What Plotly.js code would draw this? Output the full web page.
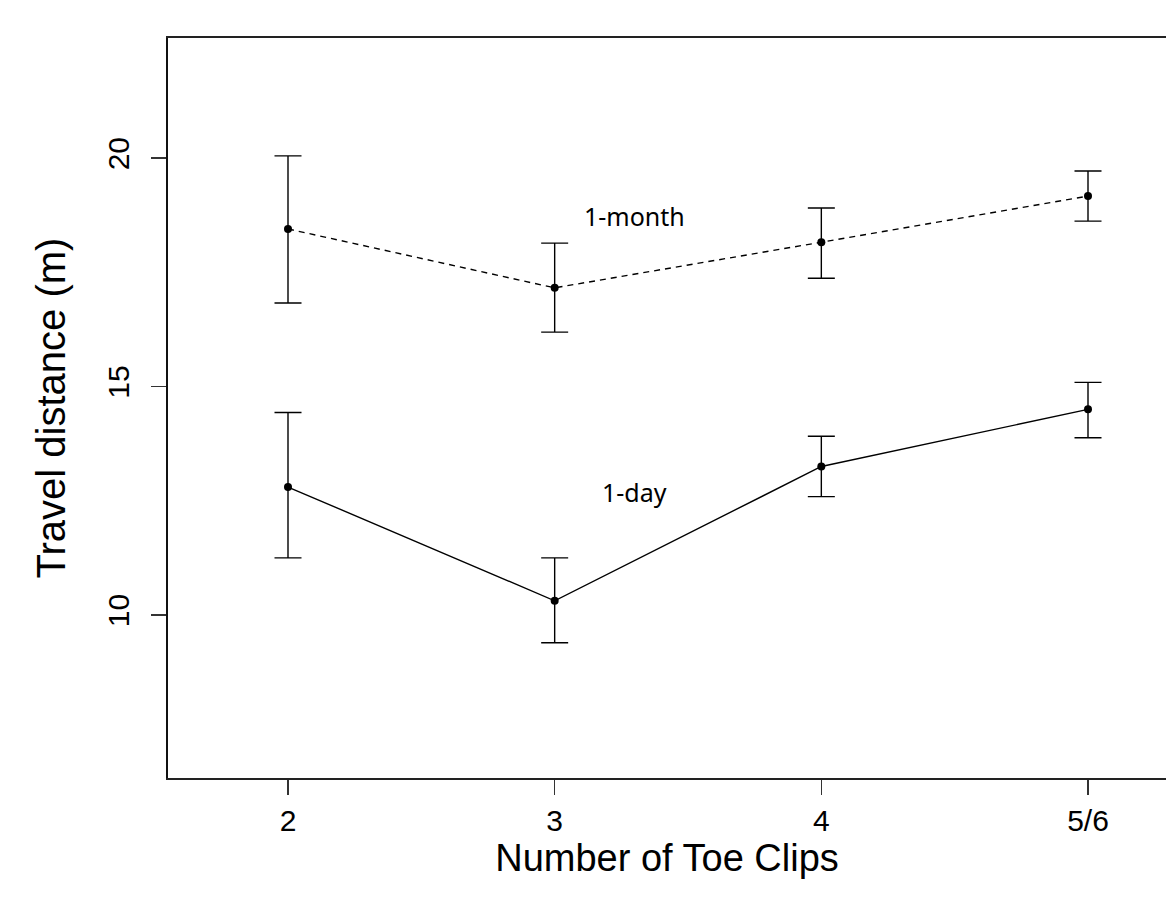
<!DOCTYPE html>
<html>
<head>
<meta charset="utf-8">
<script src="https://cdn.plot.ly/plotly-3.0.1.min.js"></script>
<style>html,body{margin:0;padding:0;background:#fff;}</style>
</head>
<body>
<div id="chart" style="width:1166px;height:901px;"></div>
<script>
const categories = ["2", "3", "4", "5/6"];
const monthMean  = [18.45, 17.16, 18.16, 19.17];
const monthUpper = [20.05, 18.14, 18.91, 19.72];
const monthLower = [16.83, 16.19, 17.37, 18.62];
const dayMean    = [12.80, 10.31, 13.25, 14.50];
const dayUpper   = [14.43, 11.25, 13.91, 15.09];
const dayLower   = [11.25, 9.39, 12.59, 13.88];
const yTicks     = [10, 15, 20];

const xIdx = categories.map((c, i) => i);

function errs(mean, up, lo) {
  return {
    type: 'data', symmetric: false,
    array: mean.map((m, i) => up[i] - m),
    arrayminus: mean.map((m, i) => m - lo[i]),
    color: '#000', thickness: 1.4, width: 13.5
  };
}

const traces = [
  {
    x: xIdx, y: monthMean, type: 'scatter', mode: 'lines+markers',
    line: {color: '#000', width: 1.4, dash: '6px,5px'},
    marker: {color: '#000', size: 8},
    error_y: errs(monthMean, monthUpper, monthLower),
    hoverinfo: 'skip'
  },
  {
    x: xIdx, y: dayMean, type: 'scatter', mode: 'lines+markers',
    line: {color: '#000', width: 1.4},
    marker: {color: '#000', size: 8},
    error_y: errs(dayMean, dayUpper, dayLower),
    hoverinfo: 'skip'
  }
];

const FONT = 'Liberation Sans, Arial, sans-serif';

const layout = {
  width: 1166, height: 901,
  margin: {l: 168, r: 0, t: 38, b: 123},
  paper_bgcolor: '#fff', plot_bgcolor: '#fff',
  showlegend: false,
  font: {family: FONT, color: '#000'},
  xaxis: {
    range: [-0.45, 3.2925],
    tickmode: 'array', tickvals: xIdx, ticktext: categories,
    ticks: 'outside', ticklen: 15, tickwidth: 1.3, tickcolor: '#333',
    showline: true, linecolor: '#222', linewidth: 1.6, mirror: true,
    showgrid: false, zeroline: false,
    tickfont: {size: 30, family: FONT},
    ticklabelstandoff: 0,
    title: {text: 'Number of Toe Clips', font: {size: 38, family: FONT}, standoff: 6},
    automargin: false
  },
  yaxis: {
    range: [6.43, 22.63],
    tickmode: 'array', tickvals: yTicks, ticktext: yTicks.map(String),
    tickangle: -90,
    ticks: 'outside', ticklen: 15, tickwidth: 1.3, tickcolor: '#333',
    showline: true, linecolor: '#111', linewidth: 1.6, mirror: false,
    showgrid: false, zeroline: false,
    tickfont: {size: 30, family: FONT},
    ticklabelstandoff: 10,
    title: {text: 'Travel distance (m)', font: {size: 40, family: FONT}, standoff: 24},
    automargin: false
  },
  annotations: [
    {x: 1.30, y: 18.73, xref: 'x', yref: 'y', text: '1-month', showarrow: false,
     font: {size: 25, family: 'Noto Sans, Open Sans, sans-serif', color: '#000'}},
    {x: 1.30, y: 12.70, xref: 'x', yref: 'y', text: '1-day', showarrow: false,
     font: {size: 25, family: 'Noto Sans, Open Sans, sans-serif', color: '#000'}}
  ]
};

Plotly.newPlot('chart', traces, layout, {displayModeBar: false, staticPlot: true});
</script>
</body>
</html>
